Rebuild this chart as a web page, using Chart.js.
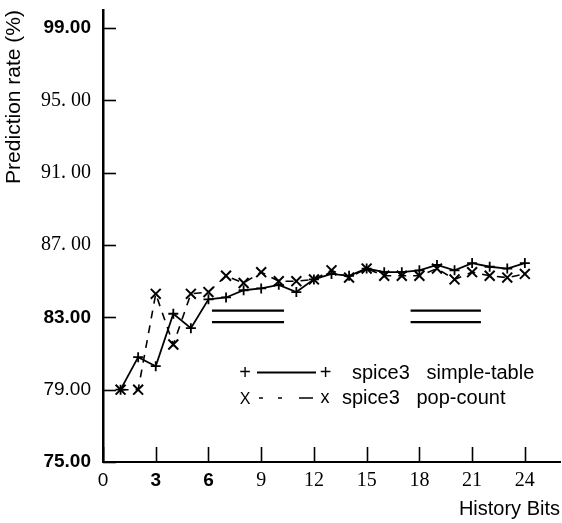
<!DOCTYPE html>
<html>
<head>
<meta charset="utf-8">
<script src="https://cdn.jsdelivr.net/npm/chart.js@4/dist/chart.umd.min.js"></script>
<style>
  html, body { margin: 0; padding: 0; background: #fff; }
  canvas { display: block; }
</style>
</head>
<body>
<canvas id="chart" width="562" height="523"></canvas>
<script>
// History length (bits) on the x axis
const historyBits = [1, 2, 3, 4, 5, 6, 7, 8, 9, 10, 11, 12, 13, 14, 15, 16, 17, 18, 19, 20, 21, 22, 23, 24];

// Prediction rate (%) for spice3
const simpleTable = [79.0, 80.8, 80.3, 83.2, 82.4, 84.0, 84.1, 84.5, 84.6, 84.8, 84.4, 85.1,
                     85.4, 85.3, 85.7, 85.5, 85.5, 85.6, 85.9, 85.6, 86.0, 85.8, 85.7, 86.0];
const popCount    = [79.0, 79.0, 84.3, 81.5, 84.3, 84.4, 85.3, 84.9, 85.5, 85.0, 85.0, 85.1,
                     85.6, 85.2, 85.7, 85.3, 85.3, 85.3, 85.7, 85.1, 85.5, 85.3, 85.2, 85.4];

const seriesNames = ['spice3   simple-table', 'spice3   pop-count'];

// Axis ticks
const xTickValues = [0, 3, 6, 9, 12, 15, 18, 21, 24];
const xTickLabels = ['0', '3', '6', '9', '12', '15', '18', '21', '24'];
const yTickValues = [75, 79, 83, 87, 91, 95, 99];
const yTickLabels = ['75.00', '79.00', '83.00', '87. 00', '91. 00', '95. 00', '99.00'];

// Double bars drawn across the plot (levels in %, spans in bits)
const barLevels = [83.37, 82.74];
const barSpans = [[6.2, 10.3], [17.5, 21.5]];

// Typeface of each tick label
const xTickStyle = ['sans', 'bold', 'bold', 'serif', 'serif', 'serif', 'serif', 'serif', 'serif'];
const yTickStyle = ['bold', 'sans', 'bold', 'serif', 'serif', 'serif', 'bold'];

function tickFont(style) {
  if (style === 'bold') return { family: 'Liberation Sans', size: 19, weight: 'bold' };
  if (style === 'sans') return { family: 'Liberation Sans', size: 19, weight: 'normal' };
  return { family: 'Liberation Serif', size: 20, weight: 'normal' };
}

function line(ctx, x1, y1, x2, y2) {
  ctx.beginPath();
  ctx.moveTo(x1, y1);
  ctx.lineTo(x2, y2);
  ctx.stroke();
}

// Inward tick marks, double bars and the key
const decorations = {
  id: 'decorations',
  afterDraw(chart) {
    const ctx = chart.ctx;
    const xs = chart.scales.x;
    const ys = chart.scales.y;
    const { left, bottom } = chart.chartArea;
    ctx.save();
    ctx.strokeStyle = '#000';
    ctx.fillStyle = '#000';

    ctx.lineWidth = 1.6;
    yTickValues.forEach(v => {
      const p = Math.round(ys.getPixelForValue(v)) + 0.5;
      line(ctx, left, p, left + 13, p);
    });
    xTickValues.forEach(v => {
      const p = Math.round(xs.getPixelForValue(v)) + 0.5;
      line(ctx, p, bottom, p, bottom - 15);
    });

    ctx.lineWidth = 2.2;
    barSpans.forEach(([a, b]) => {
      barLevels.forEach(level => {
        const y = ys.getPixelForValue(level);
        line(ctx, xs.getPixelForValue(a), y, xs.getPixelForValue(b), y);
      });
    });

    // key
    ctx.textBaseline = 'alphabetic';
    ctx.font = '20px "Liberation Sans"';
    ctx.textAlign = 'center';
    ctx.fillText('+', 245, 379);
    ctx.fillText('+', 325.5, 379);
    ctx.lineWidth = 1.8;
    line(ctx, 257, 372.5, 316, 372.5);
    ctx.textAlign = 'left';
    ctx.fillText(seriesNames[0], 352, 379);

    ctx.textAlign = 'center';
    ctx.font = '16px "Liberation Sans"';
    ctx.fillText('X', 245, 404);
    ctx.font = '18px "Liberation Sans"';
    ctx.fillText('x', 325, 403);
    ctx.lineWidth = 1.5;
    line(ctx, 259, 398, 263, 398);
    line(ctx, 278, 398, 282, 398);
    line(ctx, 299, 398, 313, 398);
    ctx.font = '20px "Liberation Sans"';
    ctx.textAlign = 'left';
    ctx.fillText(seriesNames[1], 342, 404);
    ctx.restore();
  }
};

new Chart(document.getElementById('chart').getContext('2d'), {
  type: 'line',
  data: {
    datasets: [
      {
        label: seriesNames[0],
        data: historyBits.map((b, i) => ({ x: b, y: simpleTable[i] })),
        borderColor: '#000',
        borderWidth: 1.8,
        pointStyle: 'cross',
        pointRadius: 5,
        pointBorderWidth: 1.8,
        pointBorderColor: '#000',
        pointBackgroundColor: '#000',
        fill: false,
        tension: 0
      },
      {
        label: seriesNames[1],
        data: historyBits.map((b, i) => ({ x: b, y: popCount[i] })),
        borderColor: '#000',
        borderWidth: 1.6,
        borderDash: [8, 7],
        pointStyle: 'crossRot',
        pointRadius: 7,
        pointBorderWidth: 2,
        pointBorderColor: '#000',
        pointBackgroundColor: '#000',
        fill: false,
        tension: 0
      }
    ]
  },
  options: {
    responsive: false,
    animation: false,
    devicePixelRatio: 1,
    layout: { autoPadding: false, padding: { top: 10, right: 2, left: 0, bottom: 0 } },
    plugins: { legend: { display: false }, tooltip: { enabled: false } },
    scales: {
      x: {
        type: 'linear',
        min: 0,
        max: 26,
        grid: { display: false, drawTicks: false },
        border: { display: true, color: '#000', width: 2 },
        afterBuildTicks: s => { s.ticks = xTickValues.map(v => ({ value: v })); },
        afterFit: s => {
          s.height = 61;
          s.paddingLeft = 0;
          s.paddingRight = 0;
        },
        ticks: {
          color: '#000',
          padding: 7,
          maxRotation: 0,
          autoSkip: false,
          font: c => tickFont(xTickStyle[c.index]),
          callback: (v, i) => xTickLabels[i]
        },
        title: {
          display: true,
          text: 'History Bits',
          align: 'end',
          color: '#000',
          font: { family: 'Liberation Sans', size: 20 },
          padding: { top: 0, bottom: 2 }
        }
      },
      y: {
        type: 'linear',
        min: 75,
        max: 100,
        grid: { display: false, drawTicks: false },
        border: { display: true, color: '#000', width: 2.5 },
        afterBuildTicks: s => { s.ticks = yTickValues.map(v => ({ value: v })); },
        afterFit: s => {
          s.width = 103;
          s.paddingTop = 0;
          s.paddingBottom = 0;
        },
        ticks: {
          color: '#000',
          padding: 12,
          autoSkip: false,
          font: c => tickFont(yTickStyle[c.index]),
          callback: (v, i) => yTickLabels[i]
        },
        title: {
          display: true,
          text: 'Prediction rate (%)',
          align: 'end',
          color: '#000',
          font: { family: 'Liberation Sans', size: 21 },
          padding: { top: 2, bottom: 0 }
        }
      }
    }
  },
  plugins: [decorations]
});
</script>
</body>
</html>
